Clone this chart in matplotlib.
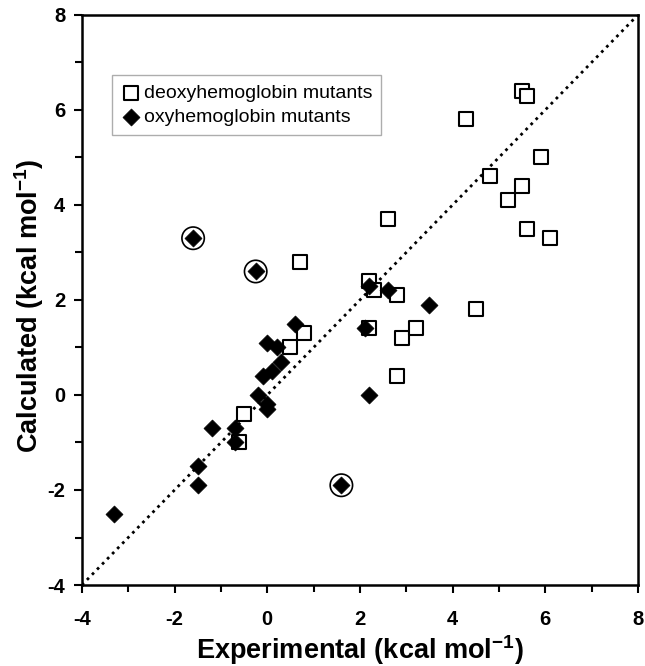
import matplotlib
matplotlib.use('Agg')
import matplotlib.pyplot as plt
import numpy as np

plt.rcParams['font.family'] = ['Liberation Sans', 'DejaVu Sans']
plt.rcParams['font.weight'] = 'bold'
plt.rcParams['axes.unicode_minus'] = False
plt.rcParams['mathtext.fontset'] = 'custom'
plt.rcParams['mathtext.rm'] = 'Liberation Sans:bold'
plt.rcParams['mathtext.bf'] = 'Liberation Sans:bold'
plt.rcParams['mathtext.default'] = 'rm'

# deoxyhemoglobin mutants (open squares)
deoxy_exp = [-0.6, -0.5, 0.5, 0.8, 0.7, 2.2, 2.3, 2.8, 2.2, 2.8, 2.9, 3.2,
             2.6, 4.5, 4.3, 5.5, 5.6, 5.9, 4.8, 5.5, 5.2, 5.6, 6.1]
deoxy_calc = [-1.0, -0.4, 1.0, 1.3, 2.8, 2.4, 2.2, 2.1, 1.4, 0.4, 1.2, 1.4,
              3.7, 1.8, 5.8, 6.4, 6.3, 5.0, 4.6, 4.4, 4.1, 3.5, 3.3]

# oxyhemoglobin mutants (filled diamonds)
oxy_exp = [-3.3, -1.5, -1.5, -1.2, -0.7, -0.7, -0.2, 0.0, 0.0, -0.1, 0.1,
           0.3, 0.0, 0.2, 0.6, 2.1, 2.2, 2.2, 2.6, 3.5, -1.6, -0.25, 1.6]
oxy_calc = [-2.5, -1.5, -1.9, -0.7, -0.7, -1.0, 0.0, -0.2, -0.3, 0.4, 0.5,
            0.7, 1.1, 1.0, 1.5, 1.4, 0.0, 2.3, 2.2, 1.9, 3.3, 2.6, -1.9]

# outliers marked with a circle
circled_exp = [-1.6, -0.25, 1.6]
circled_calc = [3.3, 2.6, -1.9]

fig = plt.figure(figsize=(6.45, 6.66), dpi=100)
ax = fig.add_axes([0.127, 0.1216, 0.862, 0.856])

ax.plot([-4, 8], [-4, 8], color='black', linestyle=(0, (1, 1.6)), lw=2.0, zorder=1)

ax.scatter(deoxy_exp, deoxy_calc, marker='s', s=110, facecolors='white',
           edgecolors='black', linewidths=1.5, zorder=2,
           label='deoxyhemoglobin mutants')
ax.scatter(oxy_exp, oxy_calc, marker='D', s=75, facecolors='black',
           edgecolors='black', linewidths=0.5, zorder=3,
           label='oxyhemoglobin mutants')
ax.scatter(circled_exp, circled_calc, marker='o', s=260, facecolors='none',
           edgecolors='black', linewidths=1.2, zorder=4)

ax.set_xlim(-4, 8)
ax.set_ylim(-4, 8)
ax.set_xticks(np.arange(-4, 9, 2))
ax.set_yticks(np.arange(-4, 9, 2))
ax.set_xticks(np.arange(-3, 8, 2), minor=True)
ax.set_yticks(np.arange(-3, 8, 2), minor=True)
ax.tick_params(which='both', direction='out', width=1.5, labelsize=14.5)
ax.tick_params(which='major', length=6)
ax.tick_params(which='minor', length=5)
ax.tick_params(axis='x', pad=12)
ax.tick_params(axis='y', pad=6)
for s in ax.spines.values():
    s.set_linewidth(1.8)

ax.set_xlabel(r'Experimental (kcal mol$^{-1}$)', fontsize=19.5, fontweight='bold')
ax.set_ylabel(r'Calculated (kcal mol$^{-1}$)', fontsize=19.5, fontweight='bold')
ax.xaxis.set_label_coords(0.5, -0.085)
ax.yaxis.set_label_coords(-0.064, 0.49)

leg = ax.legend(loc='upper left', bbox_to_anchor=(0.054, 0.894),
                prop={'size': 14, 'weight': 'normal'},
                frameon=True, fancybox=False, handletextpad=0.1,
                borderpad=0.45, handlelength=1.1, labelspacing=0.35,
                scatterpoints=1, borderaxespad=0)
leg.get_frame().set_edgecolor('#999999')
leg.get_frame().set_linewidth(1.0)

fig.savefig('out.png', dpi=100)
